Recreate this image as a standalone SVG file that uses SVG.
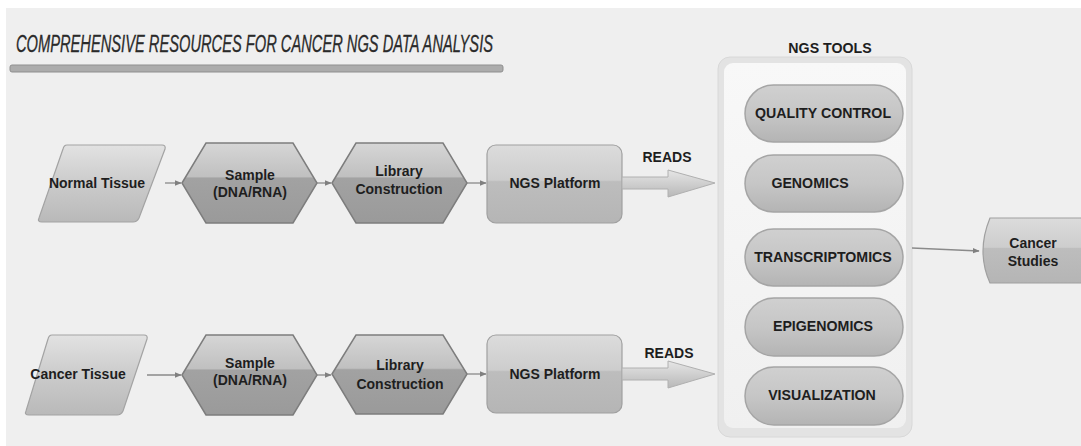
<svg xmlns="http://www.w3.org/2000/svg" width="1081" height="446" viewBox="0 0 1081 446">
<defs>
<linearGradient id="gPar" x1="0" y1="0" x2="0" y2="1">
<stop offset="0" stop-color="#e2e2e2"/><stop offset="0.5" stop-color="#cbcbcb"/><stop offset="1" stop-color="#b9b9b9"/>
</linearGradient>
<linearGradient id="gHex" x1="0" y1="0" x2="0" y2="1">
<stop offset="0" stop-color="#d6d6d6"/><stop offset="0.42" stop-color="#c0c0c0"/><stop offset="0.44" stop-color="#a2a2a2"/><stop offset="1" stop-color="#9a9a9a"/>
</linearGradient>
<linearGradient id="gRect" x1="0" y1="0" x2="0" y2="1">
<stop offset="0" stop-color="#dcdcdc"/><stop offset="0.45" stop-color="#cdcdcd"/><stop offset="0.47" stop-color="#bdbdbd"/><stop offset="1" stop-color="#b5b5b5"/>
</linearGradient>
<linearGradient id="gPill" x1="0" y1="0" x2="0" y2="1">
<stop offset="0" stop-color="#d0d0d0"/><stop offset="0.5" stop-color="#c6c6c6"/><stop offset="1" stop-color="#b4b4b4"/>
</linearGradient>
<linearGradient id="gPanel" x1="0" y1="0" x2="0" y2="1">
<stop offset="0" stop-color="#f8f8f8"/><stop offset="1" stop-color="#f0f0f0"/>
</linearGradient>
<linearGradient id="gBlk" x1="0" y1="0" x2="0" y2="1">
<stop offset="0" stop-color="#e6e6e6"/><stop offset="1" stop-color="#b8b8b8"/>
</linearGradient>
<marker id="arr" viewBox="0 0 10 10" refX="9" refY="5" markerWidth="7" markerHeight="7" orient="auto" markerUnits="userSpaceOnUse">
<path d="M0,1 L10,5 L0,9 z" fill="#808080"/>
</marker>
<style>
.t{font-family:"Liberation Sans",Arial,sans-serif;font-weight:bold;font-size:14px;fill:#1e1e1e;text-anchor:middle}
.p{font-family:"Liberation Sans",Arial,sans-serif;font-weight:bold;font-size:14.2px;fill:#1e1e1e;text-anchor:middle}
.par{fill:url(#gPar);stroke:#a3a3a3;stroke-width:1.2}
.hex{fill:url(#gHex);stroke:#7d7d7d;stroke-width:1.5}
.rr{fill:url(#gRect);stroke:#a0a0a0;stroke-width:1.2}
.pill{fill:url(#gPill);stroke:#a5a5a5;stroke-width:1.5}
.ln{stroke:#8a8a8a;stroke-width:1.3;fill:none}
.blk{fill:url(#gBlk);stroke:#b0b0b0;stroke-width:1}
</style>
</defs>
<rect x="0" y="0" width="1081" height="446" fill="#ffffff"/>
<rect x="6" y="8" width="1075" height="438" fill="#efefef"/>

<g id="title">
<text x="16" y="52" font-family="'Liberation Sans',Arial,sans-serif" font-style="italic" font-size="23" fill="#2a2a2a" stroke="#2a2a2a" stroke-width="0.3" textLength="477" lengthAdjust="spacingAndGlyphs">COMPREHENSIVE RESOURCES FOR CANCER NGS DATA ANALYSIS</text>
<rect x="10" y="65" width="493" height="7" rx="2" fill="#acacac" stroke="#8f8f8f" stroke-width="1"/>
</g>

<g id="panel">
<rect x="718" y="57" width="194" height="380" rx="12" fill="#e3e3e3" stroke="#d8d8d8" stroke-width="1"/>
<rect x="724" y="63" width="182" height="365" rx="9" fill="url(#gPanel)"/>
<text class="p" x="830" y="53">NGS TOOLS</text>
</g>

<g id="quality-control"><rect class="pill" x="745" y="85" width="158" height="57" rx="28.5"/><text class="p" x="823" y="118">QUALITY CONTROL</text></g>
<g id="genomics"><rect class="pill" x="745" y="155" width="158" height="57" rx="28.5"/><text class="p" x="810" y="188">GENOMICS</text></g>
<g id="transcriptomics"><rect class="pill" x="745" y="229" width="158" height="57" rx="28.5"/><text class="p" x="823" y="262">TRANSCRIPTOMICS</text></g>
<g id="epigenomics"><rect class="pill" x="745" y="298" width="158" height="58" rx="29"/><text class="p" x="823" y="331">EPIGENOMICS</text></g>
<g id="visualization"><rect class="pill" x="745" y="367" width="158" height="58" rx="29"/><text class="p" x="822" y="400">VISUALIZATION</text></g>

<g id="normal-tissue"><path class="par" d="M67,145 L162,145 Q166,145 165,149 L139,218 Q137,222 133,222 L42,222 Q37,222 39,218 L63,149 Q64,145 67,145 z"/><text class="t" x="97" y="188">Normal Tissue</text></g>
<g id="sample-1"><path class="hex" d="M182,183 L206,143 L293,143 L317,183 L293,223 L206,223 z"/><text class="t" x="250" y="180">Sample</text><text class="t" x="250" y="197">(DNA/RNA)</text></g>
<g id="library-1"><path class="hex" d="M332,183 L356,143 L443,143 L467,183 L443,223 L356,223 z"/><text class="t" x="399" y="176">Library</text><text class="t" x="399" y="194">Construction</text></g>
<g id="ngs-platform-1"><rect class="rr" x="487" y="145" width="135" height="78" rx="9"/><text class="t" x="555" y="188">NGS Platform</text></g>

<g id="cancer-tissue"><path class="par" d="M52,335 L144,335 Q148,335 147,339 L123,411 Q121,415 117,415 L29,415 Q24,415 26,411 L48,339 Q49,335 52,335 z"/><text class="t" x="78" y="379">Cancer Tissue</text></g>
<g id="sample-2"><path class="hex" d="M182,375 L206,335 L293,335 L317,375 L293,415 L206,415 z"/><text class="t" x="250" y="368">Sample</text><text class="t" x="250" y="385">(DNA/RNA)</text></g>
<g id="library-2"><path class="hex" d="M332,374 L356,335 L443,335 L467,374 L443,414 L356,414 z"/><text class="t" x="400" y="370">Library</text><text class="t" x="400" y="389">Construction</text></g>
<g id="ngs-platform-2"><rect class="rr" x="487" y="335" width="135" height="78" rx="9"/><text class="t" x="555" y="379">NGS Platform</text></g>

<g id="cancer-studies"><path class="rr" d="M990,218 L1090,218 L1090,283 L990,283 Q976,252 990,218 z"/><text class="t" x="1033" y="248">Cancer</text><text class="t" x="1033" y="266">Studies</text></g>

<g id="connectors">
<line class="ln" x1="165" y1="183" x2="181" y2="183" marker-end="url(#arr)"/>
<line class="ln" x1="317" y1="183" x2="331" y2="183" marker-end="url(#arr)"/>
<line class="ln" x1="467" y1="183" x2="486" y2="183" marker-end="url(#arr)"/>
<line class="ln" x1="147" y1="375" x2="181" y2="375" marker-end="url(#arr)"/>
<line class="ln" x1="317" y1="375" x2="331" y2="375" marker-end="url(#arr)"/>
<line class="ln" x1="467" y1="374" x2="486" y2="374" marker-end="url(#arr)"/>
<line class="ln" x1="912" y1="248" x2="979" y2="251" marker-end="url(#arr)"/>
<path class="blk" d="M622,177 L668,177 L668,170 L715,183 L668,197 L668,189 L622,189 z"/>
<path class="blk" d="M622,368 L668,368 L668,361 L715,374 L668,388 L668,380 L622,380 z"/>
<text class="t" x="667" y="162">READS</text>
<text class="t" x="669" y="358">READS</text>
</g>
</svg>
